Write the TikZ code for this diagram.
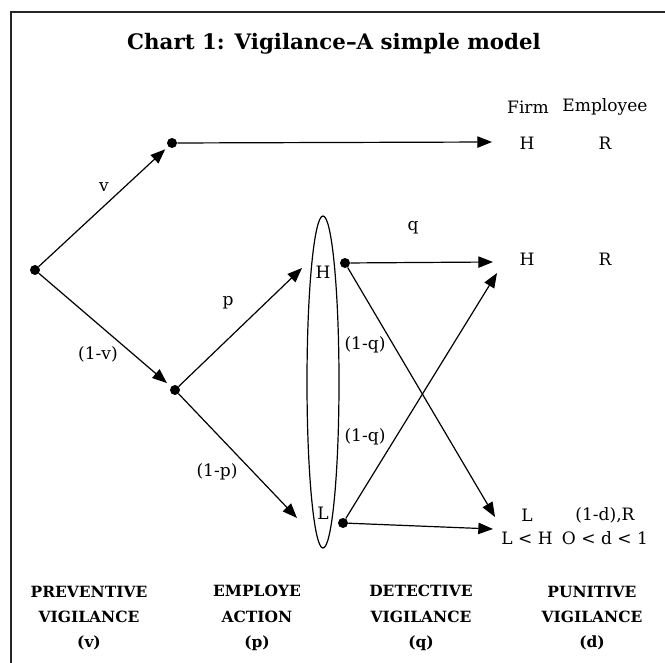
\documentclass[tikz,border=0pt]{standalone}
\usepackage{fontspec}
\setmainfont{DejaVu Serif}
\usetikzlibrary{arrows.meta}
\tikzset{
  dot/.style={circle,fill=black,inner sep=0pt,minimum size=7.5pt},
  arr/.style={draw=black,line width=0.9pt,-{Triangle[length=11pt,width=8.5pt]}},
  lbl/.style={inner sep=0pt,font=\fontsize{12.8}{15}\selectfont},
  head/.style={inner sep=0pt,font=\fontsize{16}{19}\selectfont\bfseries},
  foot/.style={inner sep=0pt,align=center,font=\fontsize{11.6}{19}\selectfont\bfseries},
}
\begin{document}
\begin{tikzpicture}[x=0.75pt,y=-0.75pt]
\useasboundingbox (0,0) rectangle (665,663);
\draw[gray!30!black,line width=1pt] (11,690) -- (11,12) -- (690,12);
\node[head] (title) at (334,44) {Chart 1: Vigilance–A simple model};
% nodes
\node[dot] (root) at (35,270) {};
\node[dot] (up) at (172,143) {};
\node[dot] (low) at (175,390) {};
\node[dot] (dH) at (345,263) {};
\node[dot] (dL) at (343,523) {};
\draw[line width=0.9pt] (323,382) ellipse [x radius=16, y radius=166];
\node[lbl] (eH) at (323,272) {H};
\node[lbl] (eL) at (323,513) {L};
\coordinate (aH) at (302,268);
\coordinate (aL) at (297,518);
\coordinate (t1) at (492,142);
\coordinate (t2) at (493,262);
\coordinate (t3) at (495,517);
\coordinate (t4) at (497,273);
\coordinate (t5) at (493,529);
% outcome labels
\node[lbl] (firm) at (528,107) {Firm};
\node[lbl] (emp) at (605,107) {Employee};
\node[lbl] (h1) at (527,143) {H};
\node[lbl] (r1) at (605,143) {R};
\node[lbl] (h2) at (527,259) {H};
\node[lbl] (r2) at (605,259) {R};
\node[lbl] (l3) at (527,515) {L};
\node[lbl] (r3) at (605,515) {(1-d),R};
\node[lbl] (lh) at (527,538) {L < H};
\node[lbl] (dd) at (605,538) {O < d < 1};
% arrows
\draw[arr,shorten >=3pt] (root) -- (up);
\draw[arr,shorten >=4pt] (root) -- (low);
\draw[arr] (up) -- (t1);
\draw[arr] (low) -- (aH);
\draw[arr] (low) -- (aL);
\draw[arr] (dH) -- (t2);
\draw[arr] (dH) -- (t3);
\draw[arr] (dL) -- (t4);
\draw[arr] (dL) -- (t5);
% branch labels
\node[lbl] (lv) at (104,187) {v};
\node[lbl] (l1v) at (98,354) {(1-v)};
\node[lbl] (lp) at (228,303) {p};
\node[lbl] (l1p) at (217,472) {(1-p)};
\node[lbl] (lq) at (413,228) {q};
\node[lbl] (l1q) at (365,345) {(1-q)};
\node[lbl] (l1q2) at (365,437) {(1-q)};
% footer
\node[foot] (f1) at (89,618) {PREVENTIVE\\VIGILANCE\\(v)};
\node[foot] (f2) at (257,618) {EMPLOYE\\ACTION\\(p)};
\node[foot] (f3) at (421,618) {DETECTIVE\\VIGILANCE\\(q)};
\node[foot] (f4) at (592,618) {PUNITIVE\\VIGILANCE\\(d)};
\end{tikzpicture}
\end{document}
